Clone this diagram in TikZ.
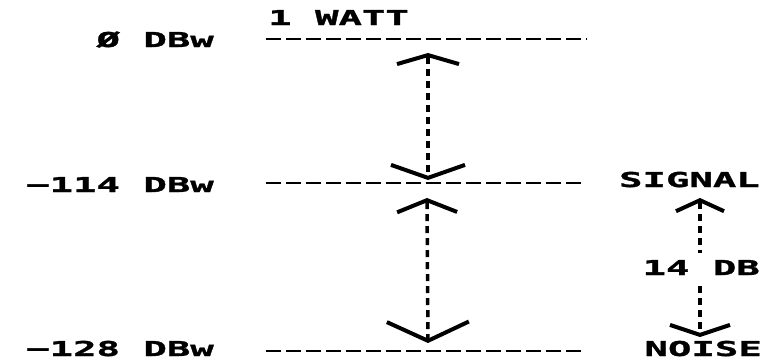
\documentclass[tikz,border=0pt]{standalone}
\usepackage{fontspec}
\usetikzlibrary{arrows.meta}
\newfontfamily\plotfont[FakeStretch=1.9,FakeBold=1.6]{DejaVu Sans Mono}
\tikzset{
  lbl/.style={inner sep=0pt, font=\plotfont\bfseries\fontsize{20.5}{22}\selectfont},
  level/.style={line width=2.5pt, dash pattern=on 15pt off 5pt},
  dbspan/.style={line width=3.5pt, dash pattern=on 7pt off 5pt},
}

\begin{document}
\begin{tikzpicture}[x=1pt, y=-1pt]
  \useasboundingbox (0,0) rectangle (767,360);
  % ── level labels (left) ───────────────────────────────────────────
  \node[lbl, anchor=base west] (watt) at (268,25) {1 WATT};
  \node[lbl, anchor=base east] (zero) at (214,47) {Ø DBw};
  \node[lbl, anchor=base east] (m114) at (214,192) {−114 DBw};
  \node[lbl, anchor=base east] (m128) at (214,356) {−128 DBw};
  % ── labels (right) ────────────────────────────────────────────────
  \node[lbl, anchor=base east] (signal) at (760,187) {SIGNAL};
  \node[lbl, anchor=base east] (noise) at (762,356) {NOISE};
  % ── level lines ───────────────────────────────────────────────────
  \coordinate (l0-w) at (266,39);   \coordinate (l0-e) at (587,39);
  \coordinate (l1-w) at (266,183);  \coordinate (l1-e) at (583,183);
  \coordinate (l2-w) at (266,351);  \coordinate (l2-e) at (585,351);
  \draw[level] (l0-w) -- (l0-e);
  \draw[level] (l1-w) -- (l1-e);
  \draw[level] (l2-w) -- (l2-e);
  % ── spans between levels ──────────────────────────────────────────
  \coordinate (a1-top) at (428,53);  \coordinate (a1-bot) at (428,180);
  \coordinate (a2-top) at (427,198); \coordinate (a2-bot) at (428,343);
  \coordinate (a3-top) at (700,198); \coordinate (a3-bot) at (700,337);
  \draw[dbspan, {Straight Barb[line width=4pt,length=9pt,width=62pt]}-{Straight Barb[line width=4pt,length=13pt,width=74pt]}]
    (a1-top) -- (a1-bot);
  \draw[dbspan, {Straight Barb[line width=4pt,length=12pt,width=60pt]}-{Straight Barb[line width=4pt,length=19pt,width=82pt]}]
    (a2-top) -- (a2-bot);
  \draw[dbspan, {Straight Barb[line width=4pt,length=11pt,width=48pt]}-{Straight Barb[line width=4pt,length=10pt,width=60pt]}]
    (a3-top) -- (a3-bot);
  % span label breaks the shaft
  \node[lbl, anchor=base east, fill=white, inner ysep=7pt] (db14) at (760,275) {14 DB};
\end{tikzpicture}
\end{document}
